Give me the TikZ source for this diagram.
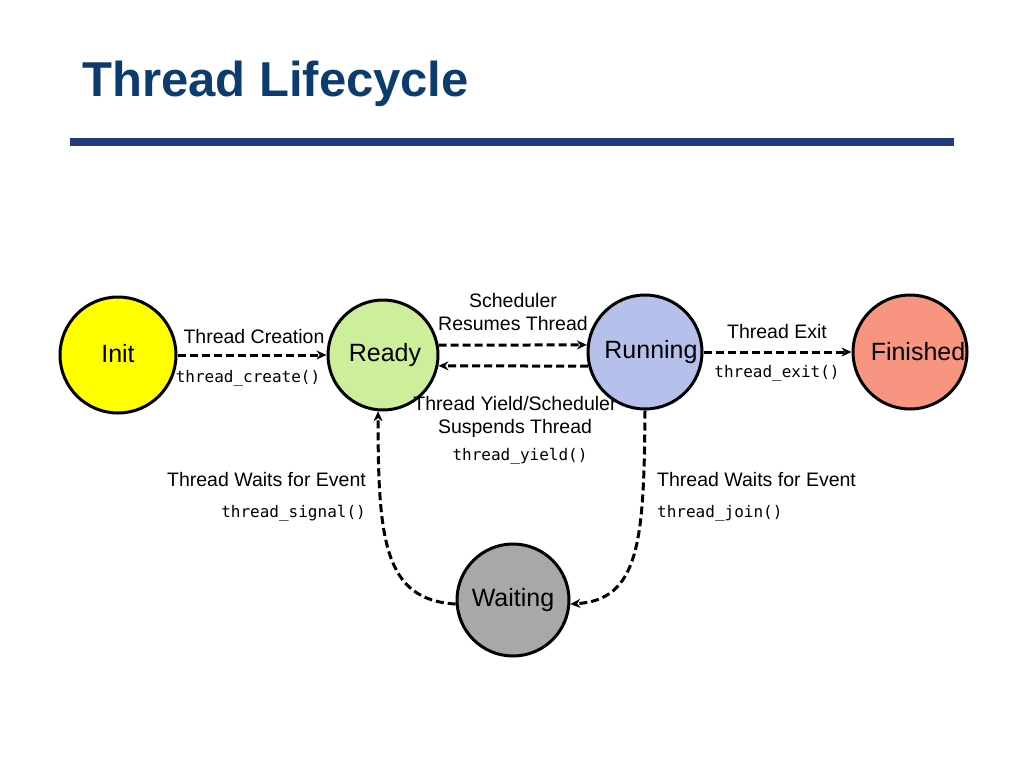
\documentclass[tikz,border=0pt]{standalone}
\usepackage{fontspec}
\setmainfont{Liberation Sans}
\setmonofont{DejaVu Sans Mono}
\usetikzlibrary{arrows.meta}
\definecolor{titleblue}{RGB}{12,60,110}
\definecolor{rulenavy}{RGB}{37,58,125}
\definecolor{initfill}{RGB}{255,255,0}
\definecolor{readyfill}{RGB}{205,238,154}
\definecolor{runfill}{RGB}{181,192,235}
\definecolor{finfill}{RGB}{248,149,128}
\definecolor{waitfill}{RGB}{168,168,168}
\begin{document}
\begin{tikzpicture}[x=1pt,y=-1pt,
  state/.style={circle, draw=black, line width=3pt, inner sep=0pt, font=\fontsize{25}{28}\selectfont},
  flow/.style={line width=3pt, dash pattern=on 8pt off 4pt, -{Stealth[length=10pt,width=9pt]}},
  lbl/.style={font=\fontsize{19.5}{22}\selectfont, inner sep=0pt, anchor=base},
  code/.style={font=\ttfamily\fontsize{16}{18}\selectfont, inner sep=0pt, anchor=base}]
\useasboundingbox (0,0) rectangle (1024,768);
\fill[white] (0,0) rectangle (1024,768);

\node[anchor=base west, inner sep=0pt, text=titleblue, font=\bfseries\fontsize{49}{52}\selectfont] (title) at (82,96) {Thread Lifecycle};
\draw[rulenavy, line width=8pt] (70,142) coordinate (r1) -- (954,142) coordinate (r2);

\node[state, fill=initfill, minimum size=116pt] (Init) at (118,355) {\raisebox{3pt}{Init}};
\node[state, fill=readyfill, minimum size=110pt] (Ready) at (383,355) {\hspace*{4pt}Ready};
\node[state, fill=runfill, minimum size=114pt] (Running) at (645,352) {\hspace*{12pt}Running};
\node[state, fill=finfill, minimum size=114pt] (Finished) at (910,352) {\hspace*{16pt}Finished};
\node[state, fill=waitfill, minimum size=112pt] (Waiting) at (513,600) {Waiting};

\draw[flow] (Init.east) -- (Ready.west);
\draw[flow] (Ready.10) -- (Running.173);
\draw[flow] (Running.194) -- (Ready.-11);
\draw[flow] (Running.east) -- (Finished.west);
\draw[flow] (Running.south) .. controls (644,540) and (640,600) .. (Waiting.-4);
\draw[flow] (Waiting.184) .. controls (384,600) and (378,540) .. (Ready.265);

\node[lbl] (l1) at (254,343) {Thread Creation};
\node[code] (c1) at (248,382) {thread\_create()};
\node[lbl] (l2a) at (513,307) {Scheduler};
\node[lbl] (l2b) at (513,330) {Resumes Thread};
\node[lbl] (l3a) at (515,410) {Thread Yield/Scheduler};
\node[lbl] (l3b) at (515,433) {Suspends Thread};
\node[code] (c3) at (520,460) {thread\_yield()};
\node[lbl] (l4) at (777,338) {Thread Exit};
\node[code] (c4) at (777,377) {thread\_exit()};
\node[lbl, anchor=base east] (l5) at (366,486) {Thread Waits for Event};
\node[code, anchor=base east] (c5) at (366,517) {thread\_signal()};
\node[lbl, anchor=base west] (l6) at (657,486) {Thread Waits for Event};
\node[code, anchor=base west] (c6) at (657,517) {thread\_join()};
\end{tikzpicture}
\end{document}
